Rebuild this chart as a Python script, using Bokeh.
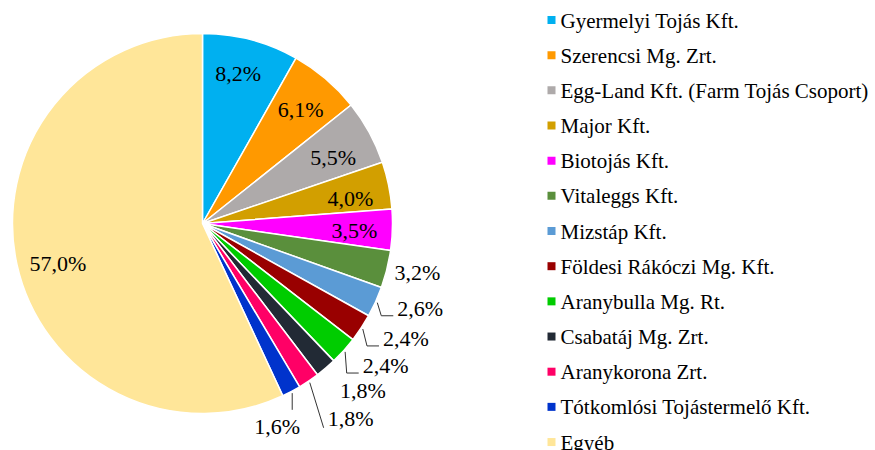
import numpy as np
from bokeh.plotting import figure
from bokeh.models import Range1d, ColumnDataSource, LabelSet
from bokeh.core.properties import value
from bokeh.embed import file_html
from bokeh.resources import INLINE

# ---------------- data ----------------
companies = [
    "Gyermelyi Tojás Kft.",
    "Szerencsi Mg. Zrt.",
    "Egg-Land Kft. (Farm Tojás Csoport)",
    "Major Kft.",
    "Biotojás Kft.",
    "Vitaleggs Kft.",
    "Mizstáp Kft.",
    "Földesi Rákóczi Mg. Kft.",
    "Aranybulla Mg. Rt.",
    "Csabatáj Mg. Zrt.",
    "Aranykorona Zrt.",
    "Tótkomlósi Tojástermelő Kft.",
    "Egyéb",
]
shares = [8.2, 6.1, 5.5, 4.0, 3.5, 3.2, 2.6, 2.4, 2.4, 1.8, 1.8, 1.6, 57.0]
labels = [f"{v:.1f}%".replace(".", ",") for v in shares]

# ---------------- styles / layout ----------------
colors = ["#00B0F0", "#FF9900", "#AEAAAA", "#D29F00", "#FF00FF", "#5A8F3C",
          "#5B9BD5", "#990000", "#00CC00", "#222A35", "#FF0066", "#0033CC",
          "#FFE699"]
# label distance from centre (fraction of radius) and angular nudge (deg, clockwise)
label_r = [0.81, 0.79, 0.77, 0.79, 0.80, 1.16, 1.23, 1.23, 1.22, 1.22, 1.29, 1.14, 0.79]
label_turn = [-1.3, 0.4, 2.0, 2.0, 0.7, -1.1, -3.1, -3.9, -4.2, -3.3, -3.2, 7.7, -3.0]
leader = [None, None, None, None, None, None, "elbow", "elbow", "elbow", None,
          "straight", "above", None]

W, H = 875, 450
CX, CY, R = 202, 227, 190
SERIF = value("Liberation Serif")

total = sum(shares)
cum = np.concatenate([[0.0], np.cumsum(shares)]) / total
th0 = cum[:-1] * 360.0          # clockwise from 12 o'clock
th1 = cum[1:] * 360.0
start = np.radians(90.0 - th1).tolist()
end = np.radians(90.0 - th0).tolist()
mid_cw = (th0 + th1) / 2.0

p = figure(width=W, height=H, x_range=Range1d(0, W), y_range=Range1d(0, H),
           x_axis_type=None, y_axis_type=None, output_backend="svg",
           toolbar_location=None, min_border=0, outline_line_color=None)

# pie
p.wedge(x=CX, y=CY, radius=R, start_angle=start, end_angle=end,
        fill_color=colors, line_color="white", line_width=1.5)

# legend squares
n = len(companies)
leg_y = [430.5 - 35.17 * i for i in range(n)]
p.scatter(x=[551.0] * n, y=leg_y, marker="square", size=8, fill_color=colors,
          line_color=None)

# legend text
leg_src = ColumnDataSource(dict(x=[560.0] * n, y=[v - 0.5 for v in leg_y], text=companies))
p.add_layout(LabelSet(x="x", y="y", text="text", source=leg_src,
                      text_font=SERIF, text_font_size="21px",
                      text_align="left", text_baseline="middle",
                      text_color="black"))

# slice labels
lab_ang = np.radians(90.0 - (mid_cw + np.array(label_turn)))
lx = (CX + R * np.array(label_r) * np.cos(lab_ang)).tolist()
ly = (CY + R * np.array(label_r) * np.sin(lab_ang)).tolist()
lab_src = ColumnDataSource(dict(x=lx, y=ly, text=labels))
p.add_layout(LabelSet(x="x", y="y", text="text", source=lab_src,
                      text_font=SERIF, text_font_size="22px",
                      text_align="center", text_baseline="middle",
                      text_color="black"))

# leader lines
mid_rad = np.radians(90.0 - mid_cw).tolist()
xs, ys = [], []
half_w = 23.0
for i, kind in enumerate(leader):
    if kind is None:
        continue
    ex = float(CX + R * 1.01 * np.cos(mid_rad[i]))
    ey = float(CY + R * 1.01 * np.sin(mid_rad[i]))
    left = lx[i] - half_w
    if kind == "elbow":
        xs.append([ex, left - 16, left - 4])
        ys.append([ey, ly[i] - 7.5, ly[i] - 7.5])
    elif kind == "straight":
        xs.append([ex, left - 4])
        ys.append([ey, ly[i] - 9])
    elif kind == "above":
        xs.append([ex, ex])
        ys.append([ey, ly[i] + 17])
p.multi_line(xs=xs, ys=ys, line_color="#333333", line_width=1)

open("out.html", "w").write(file_html(p, INLINE))
